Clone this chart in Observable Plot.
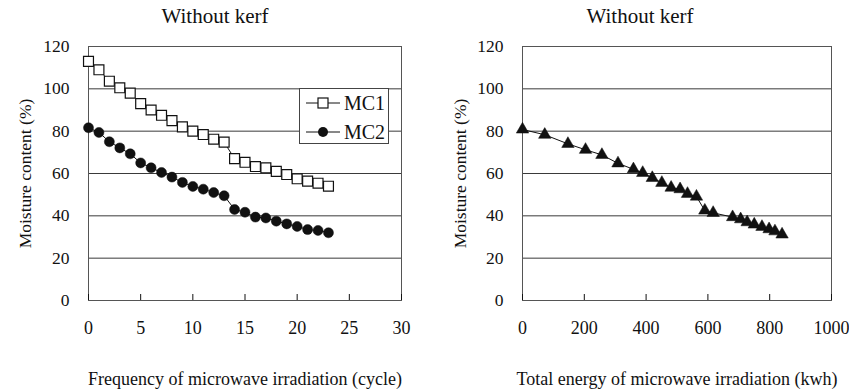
<!DOCTYPE html>
<html>
<head>
<meta charset="utf-8">
<script src="https://cdn.jsdelivr.net/npm/d3@7"></script>
<script src="https://cdn.jsdelivr.net/npm/@observablehq/plot@0.6"></script>
<style>
  html, body { margin: 0; padding: 0; background: #fff; }
  #wrap { position: relative; width: 849px; height: 391px; font-family: "Liberation Serif", serif; color: #111; }
  #wrap svg, #wrap svg text { font-family: "Liberation Serif", serif !important; }
  .panel { position: absolute; top: 0; }
  .title { position: absolute; top: 4px; font-size: 21px; font-family: "Liberation Serif", serif; transform: translateX(-50%); white-space: nowrap; }
  #legend { position: absolute; left: 299px; top: 88px; width: 90px; height: 56px; background: #fff; border: 1px solid #444; box-sizing: border-box; }
</style>
</head>
<body>
<div id="wrap">
  <div class="panel" id="left"></div>
  <div class="panel" id="right" style="left:430px"></div>
  <div class="title" style="left:215px">Without kerf</div>
  <div class="title" style="left:640px">Without kerf</div>
  <div id="legend"></div>
</div>
<script>
// Data
const cycles = [0,1,2,3,4,5,6,7,8,9,10,11,12,13,14,15,16,17,18,19,20,21,22,23];
const mc1 = [113,109,103.6,100.5,98,93,90,87.5,85,82,80,78.4,76.2,74.8,67,65.3,63.3,62.7,61,59.5,57.5,56.4,55.4,54];
const mc2 = [81.6,79.4,75,72.1,69.3,65,62.7,60.5,58.3,55.8,53.9,52.6,51,49.5,43,41.7,39.4,39,37.5,36.2,35,33.5,33.1,32];
const energy = [0,72,147,204,257,309,359,389,420,451,481,510,534,563,590,617,680,706,727,750,775,798,817,840];
const mcEnergy = [80.8,78.3,74,71.2,68.8,64.8,62,60.3,57.9,55.6,53.3,52.6,50.4,49.1,42.5,41.4,39.4,38.4,37,35.9,34.8,33.7,32.7,31.2];
const yTicks = [0,20,40,60,80,100,120];
const xTicksLeft = [0,5,10,15,20,25,30];
const xTicksRight = [0,200,400,600,800,1000];
const seriesNames = ["MC1","MC2"];

const left1 = cycles.map((c,i)=>({x:c, y:mc1[i]}));
const left2 = cycles.map((c,i)=>({x:c, y:mc2[i]}));
const rightData = energy.map((e,i)=>({x:e, y:mcEnergy[i]}));

const ink = "#111";
const grid = "#3a3a3a";
const serif = "Liberation Serif";

function common(xTicks, xLabel, yLabelOffset) {
  return [
    Plot.gridY(yTicks, {stroke: grid, strokeOpacity: 1, strokeWidth: 1}),
    Plot.frame({stroke: "#555", strokeWidth: 1}),
    Plot.axisY(yTicks, {tickSize: 0, tickPadding: 19, fontSize: 17.5, fontFamily: serif, fill: ink,
      tickFormat: d => String(d),
      label: "Moisture content (%)", labelAnchor: "center", labelOffset: yLabelOffset, labelArrow: "none"}),
    Plot.axisX(xTicks, {tickSize: 0, tickPadding: 21, fontSize: 18, fontFamily: serif, fill: ink,
      tickFormat: d => String(d),
      label: xLabel, labelAnchor: "center", labelOffset: 84, labelArrow: "none"}),
    Plot.axisX(xTicks, {tickSize: -6, text: null, label: null, stroke: ink})
  ];
}

const leftPlot = Plot.plot({
  width: 430, height: 391,
  marginLeft: 88, marginRight: 29, marginTop: 46, marginBottom: 91,
  style: {fontFamily: "'Liberation Serif', serif", fontSize: "18.5px", color: ink},
  x: {domain: [0, 30]},
  y: {domain: [0, 120]},
  marks: [
    ...common(xTicksLeft, "Frequency of microwave irradiation (cycle)", 70),
    Plot.line(left1, {x: "x", y: "y", stroke: ink, strokeWidth: 1}),
    Plot.line(left2, {x: "x", y: "y", stroke: ink, strokeWidth: 1}),
    Plot.dot(left1, {x: "x", y: "y", symbol: "square", r: 5.6, fill: "#fff", stroke: ink, strokeWidth: 1.2}),
    Plot.dot(left2, {x: "x", y: "y", symbol: "circle", r: 5, fill: ink, stroke: ink, strokeWidth: 0.5})
  ]
});
document.getElementById("left").appendChild(leftPlot);

const rightPlot = Plot.plot({
  width: 419, height: 391,
  marginLeft: 92, marginRight: 18, marginTop: 46, marginBottom: 91,
  style: {fontFamily: "'Liberation Serif', serif", fontSize: "18.5px", color: ink},
  x: {domain: [0, 1000]},
  y: {domain: [0, 120]},
  marks: [
    ...common(xTicksRight, "Total energy of microwave irradiation (kwh)", 69),
    Plot.line(rightData, {x: "x", y: "y", stroke: ink, strokeWidth: 1}),
    Plot.dot(rightData, {x: "x", y: "y", symbol: "triangle", r: 4.6, fill: ink, stroke: ink, strokeWidth: 0.5})
  ]
});
document.getElementById("right").appendChild(rightPlot);

// Legend
const leg = d3.select("#legend").append("svg").attr("width", 88).attr("height", 54)
  .style("font-family", "'Liberation Serif', serif");
seriesNames.forEach((name, i) => {
  const cy = 14 + i * 29;
  const g = leg.append("g");
  g.append("line").attr("x1", 6).attr("x2", 40).attr("y1", cy).attr("y2", cy).attr("stroke", ink);
  if (i === 0) {
    g.append("rect").attr("x", 18).attr("y", cy - 5).attr("width", 10).attr("height", 10)
      .attr("fill", "#fff").attr("stroke", ink).attr("stroke-width", 1.2);
  } else {
    g.append("circle").attr("cx", 23).attr("cy", cy).attr("r", 5).attr("fill", ink);
  }
  g.append("text").attr("x", 44).attr("y", cy).attr("dy", "0.35em").attr("font-size", 20).attr("fill", ink).text(name);
});
</script>
</body>
</html>
